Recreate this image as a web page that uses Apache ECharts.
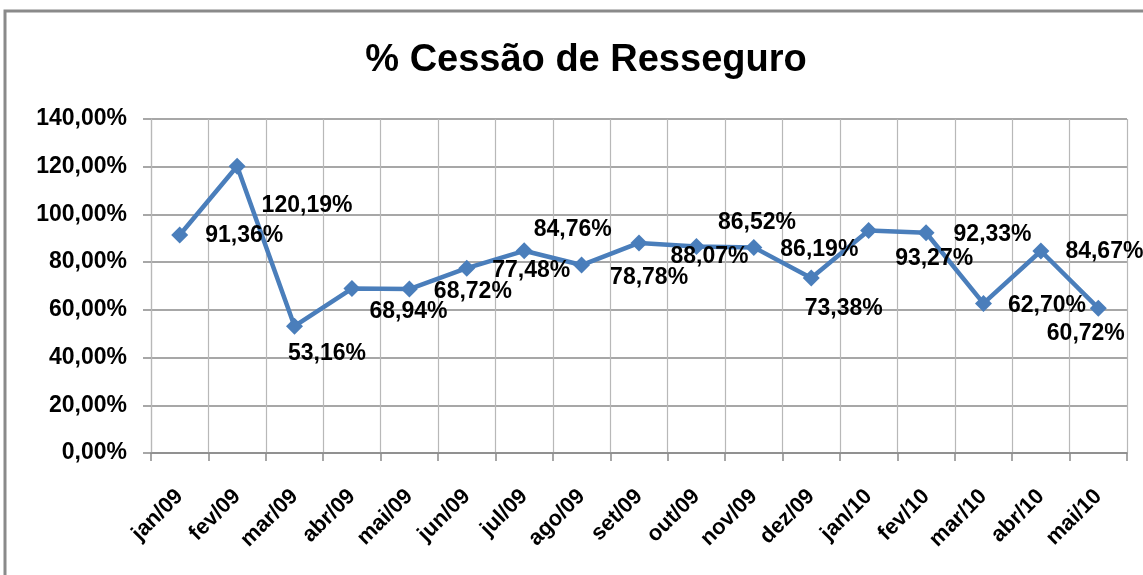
<!DOCTYPE html>
<html>
<head>
<meta charset="utf-8">
<script src="https://cdn.jsdelivr.net/npm/echarts@6/dist/echarts.min.js"></script>
<style>
html,body{margin:0;padding:0;background:#fff;}
#chart{width:1143px;height:575px;}
</style>
</head>
<body>
<div id="chart"></div>
<script>
const titleText = '% Cessão de Resseguro';
const categories = ['jan/09','fev/09','mar/09','abr/09','mai/09','jun/09','jul/09','ago/09','set/09','out/09','nov/09','dez/09','jan/10','fev/10','mar/10','abr/10','mai/10'];
const values = [91.36,120.19,53.16,68.94,68.72,77.48,84.76,78.78,88.07,86.52,86.19,73.38,93.27,92.33,62.70,84.67,60.72];
const yTicks = {min:0, max:140, interval:20};

// label nudges (pixels) relative to a 'right' placed label
const labelNudge = [[1,1],[0,39],[-31,27],[-7,23],[0,3],[1,3],[-15,-21],[4,13],[7,14],[-3,-24],[2,2],[-31,31],[2,28],[3,2],[0,2],[0,1],[-76,26]];

function fmt(v){ return v.toFixed(2).replace('.', ',') + '%'; }

const FONT = '"Liberation Sans", Arial, sans-serif';
const chart = echarts.init(document.getElementById('chart'));
chart.setOption({
  backgroundColor:'#ffffff',
  animation:false,
  title:{
    text:titleText, left:581, top:37, textAlign:'center',
    textStyle:{fontFamily:FONT, fontSize:38, fontWeight:'bold', color:'#000'}
  },
  graphic:[{
    type:'rect', shape:{x:5, y:11, width:1300, height:800},
    style:{fill:'none', stroke:'#8a8a8a', lineWidth:3}, silent:true
  }],
  grid:{left:151, right:16, top:119, bottom:122},
  xAxis:{
    type:'category', data:categories, boundaryGap:true,
    axisLine:{show:true, lineStyle:{color:'#8a8a8a', width:1.5}},
    axisTick:{show:true, interval:0, length:8, lineStyle:{color:'#8a8a8a', width:1.5}},
    splitLine:{show:true, interval:0, lineStyle:{color:'#b8b8b8', width:1.2}},
    axisLabel:{interval:0, rotate:45, margin:40, color:'#000', fontFamily:FONT, fontSize:22, fontWeight:'bold'}
  },
  yAxis:{
    type:'value', min:yTicks.min, max:yTicks.max, interval:yTicks.interval,
    axisLine:{show:true, lineStyle:{color:'#b8b8b8', width:1.2}},
    axisTick:{show:true, length:8, lineStyle:{color:'#8a8a8a', width:1.5}},
    splitLine:{show:true, lineStyle:{color:'#8a8a8a', width:1.5}},
    axisLabel:{margin:24, color:'#000', fontFamily:FONT, fontSize:23, fontWeight:'bold', formatter:fmt}
  },
  series:[{
    type:'line',
    data:values.map((v,i)=>({value:v, label:{offset:labelNudge[i]}})),
    symbol:'diamond', symbolSize:17,
    lineStyle:{color:'#4a7ebb', width:4.5},
    itemStyle:{color:'#4a7ebb'},
    label:{show:true, position:'right', distance:16, color:'#000', fontFamily:FONT, fontSize:23, fontWeight:'bold',
      formatter:p=>fmt(p.value)}
  }]
});
</script>
</body>
</html>
